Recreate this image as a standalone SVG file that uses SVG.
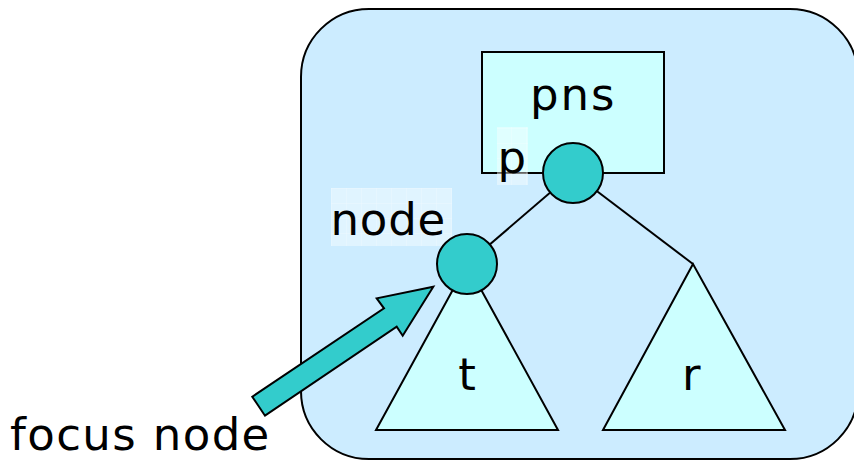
<svg xmlns="http://www.w3.org/2000/svg" width="854" height="461" viewBox="0 0 854 461">
  <style>
    .lbl { font-family: "DejaVu Sans", Verdana, sans-serif; font-size: 45px; fill: #000; }
    .edge { stroke: #000; stroke-width: 2; fill: none; }
    .tree { fill: #CCFFFF; stroke: #000; stroke-width: 2; stroke-linejoin: miter; }
    .dot { fill: #33CCCC; stroke: #000; stroke-width: 2; }
    .hl { fill: url(#hlgrid); }
  </style>
  <defs>
    <!-- light translucent label backing with a faint tile grid -->
    <pattern id="hlgrid" patternUnits="userSpaceOnUse" x="331" y="188" width="15" height="15">
      <rect width="15" height="15" fill="#FFFFFF" fill-opacity="0.4"/>
      <path d="M0 0V15M0 0H15" stroke="#FFFFFF" stroke-opacity="0.35" stroke-width="1"/>
    </pattern>
  </defs>

  <!-- enclosing region -->
  <g id="region">
    <rect x="301" y="9" width="557" height="450" rx="68" ry="68" fill="#CCECFF" stroke="#000" stroke-width="2"/>
  </g>

  <!-- pns box -->
  <g id="pns">
    <rect x="482" y="52" width="182" height="121" class="tree"/>
    <text class="lbl" x="530" y="110" letter-spacing="2">pns</text>
  </g>

  <!-- subtrees -->
  <g id="subtree-t">
    <polygon class="tree" points="467,264 376,430 558,430"/>
    <text class="lbl" x="467" y="390" text-anchor="middle">t</text>
  </g>
  <g id="subtree-r">
    <polygon class="tree" points="693,264 603,430 785,430"/>
    <text class="lbl" x="682" y="390">r</text>
  </g>

  <!-- connectors -->
  <g id="connectors">
    <line class="edge" x1="573" y1="173" x2="467" y2="264"/>
    <line class="edge" x1="573" y1="173" x2="693" y2="264"/>
    <polygon id="focus-arrow" points="433.3,286.7 402.7,335.7 396.7,326.7 265,415.7 252.3,396.7 384,308.3 376.7,298.3" fill="#33CCCC" stroke="#000" stroke-width="2" stroke-linejoin="miter"/>
  </g>

  <!-- node p -->
  <g id="node-p">
    <circle class="dot" cx="573" cy="173" r="30"/>
    <rect class="hl" x="497" y="127" width="31" height="58"/>
    <text class="lbl" x="497.5" y="173">p</text>
  </g>

  <!-- focused node -->
  <g id="node-focus">
    <rect class="hl" x="331" y="188" width="121" height="58"/>
    <text class="lbl" x="330.5" y="235" letter-spacing="0.8">node</text>
    <circle class="dot" cx="467" cy="264" r="30"/>
  </g>

  <!-- caption -->
  <g id="caption">
    <text class="lbl" x="10" y="450" letter-spacing="1.4">focus node</text>
  </g>
</svg>
